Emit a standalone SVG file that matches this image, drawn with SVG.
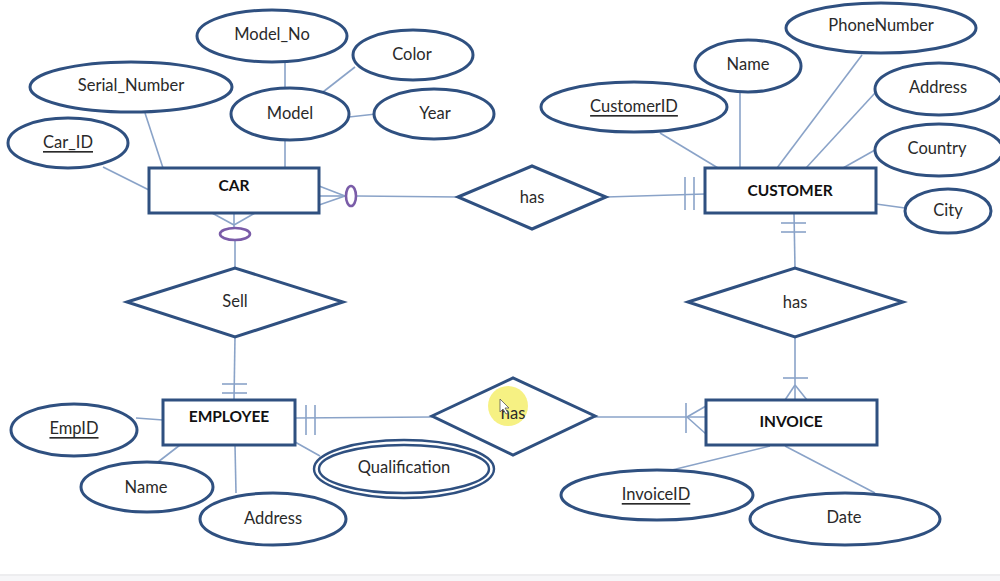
<svg xmlns="http://www.w3.org/2000/svg" width="1000" height="581" viewBox="0 0 1000 581">
<style>
.sh{fill:#fff;stroke:#2f5080;stroke-width:3}
.dbl{fill:#fff;stroke:#2f5080;stroke-width:2.4}
.ln{stroke:#8aa3c8;stroke-width:1.6;fill:none}
.op{fill:none;stroke:#7a5ca8;stroke-width:2.6}
.t{font-family:Lato,"Open Sans","Liberation Sans",sans-serif;font-size:16.5px;fill:#2a2a2a;text-anchor:middle;dominant-baseline:central}
.b{font-weight:bold;fill:#111;font-size:15.5px}
.u{text-decoration:underline}
</style>
<rect width="1000" height="581" fill="#fff"/>
<line x1="0" y1="575" x2="1000" y2="575" stroke="#dcdce0" stroke-width="1.2"/>
<rect x="0" y="576" width="1000" height="5" fill="#f6f6f8"/>
<g id="connectors">
<line class="ln" x1="285" y1="62" x2="285" y2="88"/>
<line class="ln" x1="323" y1="92" x2="355" y2="67"/>
<line class="ln" x1="349" y1="117" x2="376" y2="114"/>
<line class="ln" x1="285" y1="140" x2="285" y2="168"/>
<line class="ln" x1="145" y1="113" x2="163" y2="168"/>
<line class="ln" x1="103" y1="167" x2="149" y2="190"/>
<line class="ln" x1="319" y1="186" x2="345" y2="196"/>
<line class="ln" x1="319" y1="205" x2="345" y2="196"/>
<line class="ln" x1="319" y1="196" x2="345" y2="196"/>
<line class="ln" x1="357" y1="196" x2="458" y2="197"/>
<line class="ln" x1="212" y1="213" x2="234" y2="225"/>
<line class="ln" x1="255" y1="213" x2="234" y2="225"/>
<line class="ln" x1="234" y1="213" x2="234" y2="228"/>
<line class="ln" x1="235" y1="240" x2="235" y2="268"/>
<line class="ln" x1="606" y1="197" x2="705" y2="194"/>
<line class="ln" x1="685" y1="177" x2="685" y2="210"/>
<line class="ln" x1="694" y1="177" x2="694" y2="210"/>
<line class="ln" x1="794" y1="213" x2="795" y2="268"/>
<line class="ln" x1="781" y1="223" x2="806" y2="223"/>
<line class="ln" x1="781" y1="232" x2="806" y2="232"/>
<line class="ln" x1="795" y1="337" x2="795" y2="400"/>
<line class="ln" x1="783" y1="378" x2="808" y2="378"/>
<line class="ln" x1="795" y1="385" x2="785" y2="400"/>
<line class="ln" x1="795" y1="385" x2="807" y2="400"/>
<line class="ln" x1="595" y1="417" x2="706" y2="417"/>
<line class="ln" x1="687" y1="417" x2="706" y2="406"/>
<line class="ln" x1="687" y1="417" x2="706" y2="434"/>
<line class="ln" x1="686" y1="403" x2="686" y2="433"/>
<line class="ln" x1="235" y1="337" x2="234" y2="400"/>
<line class="ln" x1="222" y1="384" x2="247" y2="384"/>
<line class="ln" x1="222" y1="393" x2="247" y2="393"/>
<line class="ln" x1="295" y1="418" x2="432" y2="417"/>
<line class="ln" x1="306" y1="405" x2="306" y2="435"/>
<line class="ln" x1="315" y1="405" x2="315" y2="435"/>
<line class="ln" x1="136" y1="418" x2="163" y2="420"/>
<line class="ln" x1="158" y1="462" x2="180" y2="445"/>
<line class="ln" x1="235" y1="445" x2="236" y2="493"/>
<line class="ln" x1="295" y1="442" x2="320" y2="456"/>
<line class="ln" x1="660" y1="133" x2="718" y2="168"/>
<line class="ln" x1="740" y1="92" x2="740" y2="168"/>
<line class="ln" x1="862" y1="55" x2="777" y2="168"/>
<line class="ln" x1="875" y1="93" x2="806" y2="168"/>
<line class="ln" x1="875" y1="150" x2="843" y2="168"/>
<line class="ln" x1="876" y1="204" x2="905" y2="208"/>
<line class="ln" x1="672" y1="470" x2="770" y2="446"/>
<line class="ln" x1="875" y1="493" x2="785" y2="446"/>
<ellipse class="op" cx="351" cy="196" rx="5" ry="10"/>
<ellipse class="op" cx="235" cy="234" rx="15" ry="6"/>
</g>
<g id="car"><rect class="sh" x="149" y="168" width="170" height="45"/><text class="t b" x="234" y="185">CAR</text></g>
<g id="customer"><rect class="sh" x="705" y="168" width="171" height="45"/><text class="t b" x="790" y="190">CUSTOMER</text></g>
<g id="employee"><rect class="sh" x="163" y="400" width="132" height="45"/><text class="t b" x="229" y="416">EMPLOYEE</text></g>
<g id="invoice"><rect class="sh" x="706" y="400" width="171" height="45"/><text class="t b" x="791" y="421">INVOICE</text></g>
<g id="has1"><polygon class="sh" points="458,197 532,166 606,197 532,229"/><text class="t" x="532" y="197">has</text></g>
<g id="sell"><polygon class="sh" points="127,302 235,268 343,302 235,337"/><text class="t" x="235" y="301">Sell</text></g>
<g id="has2"><polygon class="sh" points="688,302 795,268 903,302 795,337"/><text class="t" x="795" y="302">has</text></g>
<g id="has3"><polygon class="sh" points="432,416 513,378 595,416 513,455"/><circle cx="508" cy="406" r="20" fill="#f3ec5a" opacity="0.75"/><text class="t" x="513" y="413" fill="#4a4630">has</text></g>
<g id="model_no"><ellipse class="sh" cx="272" cy="36" rx="75" ry="26"/><text class="t" x="272" y="34">Model_No</text></g>
<g id="color"><ellipse class="sh" cx="413" cy="55" rx="60" ry="25"/><text class="t" x="412" y="54">Color</text></g>
<g id="serial"><ellipse class="sh" cx="131" cy="87" rx="101" ry="25"/><text class="t" x="131" y="85">Serial_Number</text></g>
<g id="model"><ellipse class="sh" cx="290" cy="114" rx="59" ry="26"/><text class="t" x="290" y="113">Model</text></g>
<g id="year"><ellipse class="sh" cx="434" cy="114" rx="60" ry="25"/><text class="t" x="435" y="113">Year</text></g>
<g id="car_id"><ellipse class="sh" cx="68" cy="143" rx="60" ry="25"/><text class="t u" x="68" y="142">Car_ID</text></g>
<g id="customerid"><ellipse class="sh" cx="634" cy="107" rx="93" ry="25"/><text class="t u" x="634" y="106">CustomerID</text></g>
<g id="cname"><ellipse class="sh" cx="748" cy="66" rx="53" ry="26"/><text class="t" x="748" y="64">Name</text></g>
<g id="phone"><ellipse class="sh" cx="881" cy="28" rx="95" ry="25"/><text class="t" x="881" y="25">PhoneNumber</text></g>
<g id="caddress"><ellipse class="sh" cx="939" cy="89" rx="64" ry="26"/><text class="t" x="938" y="87">Address</text></g>
<g id="country"><ellipse class="sh" cx="939" cy="150" rx="64" ry="26"/><text class="t" x="937" y="148">Country</text></g>
<g id="city"><ellipse class="sh" cx="948" cy="211" rx="43" ry="22"/><text class="t" x="948" y="210">City</text></g>
<g id="empid"><ellipse class="sh" cx="74" cy="430" rx="63" ry="26"/><text class="t u" x="74" y="428">EmpID</text></g>
<g id="ename"><ellipse class="sh" cx="147" cy="487" rx="66" ry="25"/><text class="t" x="146" y="487">Name</text></g>
<g id="eaddress"><ellipse class="sh" cx="273" cy="519" rx="73" ry="26"/><text class="t" x="273" y="518">Address</text></g>
<g id="qualification"><ellipse class="dbl" cx="404" cy="469" rx="90" ry="29"/><ellipse class="dbl" cx="404" cy="469" rx="85" ry="24"/><text class="t" x="404" y="467">Qualification</text></g>
<g id="invoiceid"><ellipse class="sh" cx="657" cy="495" rx="96" ry="25"/><text class="t u" x="656" y="494">InvoiceID</text></g>
<g id="date"><ellipse class="sh" cx="845" cy="519" rx="95" ry="26"/><text class="t" x="844" y="517">Date</text></g>
<g id="cursor">
<polygon points="500,399 500,412 503,409 506,414 508,413 505,408 509,408" fill="#fff" stroke="#555" stroke-width="0.8"/>
</g>
</svg>
